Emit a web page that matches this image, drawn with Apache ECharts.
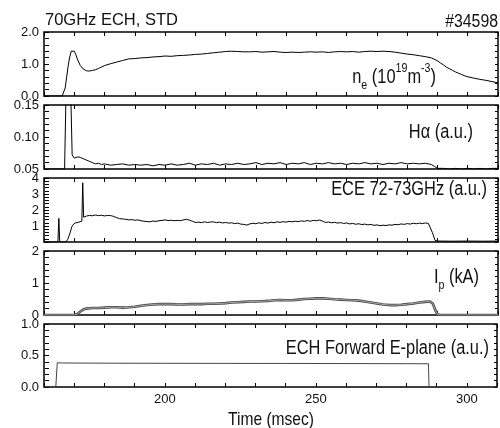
<!DOCTYPE html>
<html>
<head>
<meta charset="utf-8">
<script src="https://cdn.jsdelivr.net/npm/echarts@6/dist/echarts.min.js"></script>
<style>html,body{margin:0;padding:0;background:#fff}#c{width:500px;height:428px}</style>
</head>
<body>
<div id="c"></div>
<script>
// ---- data (time in msec, value) ----
const timeTicks = [200, 250, 300];

const neData = [[160,0],[164,0],[166,0],[166.5,0.03],[167,0.25],[167.5,0.6],[168,0.95],[168.5,1.22],[169,1.40],[169.5,1.44],[170,1.40],[170.5,1.30],[171,1.16],[172,0.95],[173,0.84],[174,0.79],[175,0.78],[176,0.80],[177,0.82],[178,0.86],[180,0.95],[182,1.01],[184,1.06],[186,1.11],[188,1.16],[190,1.17],[192,1.19],[194,1.20],[196,1.22],[198,1.23],[200,1.25],[202,1.24],[204,1.26],[206,1.27],[208,1.28],[210,1.30],[212,1.31],[214,1.33],[216,1.35],[218,1.37],[220,1.39],[222,1.40],[224,1.39],[226,1.38],[228,1.38],[230,1.39],[232,1.37],[234,1.38],[236,1.39],[238,1.37],[240,1.36],[242,1.37],[244,1.36],[246,1.37],[248,1.38],[250,1.37],[252,1.38],[254,1.36],[256,1.38],[258,1.39],[260,1.38],[262,1.39],[264,1.37],[266,1.39],[268,1.40],[270,1.39],[272,1.40],[274,1.39],[276,1.37],[278,1.34],[280,1.31],[282,1.29],[284,1.26],[286,1.23],[288,1.19],[290,1.10],[291,1.03],[292,0.97],[293,0.90],[294,0.85],[295,0.80],[296,0.75],[297,0.71],[298,0.67],[299,0.63],[300,0.60],[302,0.56],[304,0.52],[306,0.49],[308,0.45],[310,0.41]];

const haData = [[160,0.05],[166.8,0.05],[167.4,0.2],[168.7,0.2],[169.3,0.072],[170,0.067],[170.6,0.066],[171.2,0.069],[172,0.068],[173,0.066],[174,0.064],[175,0.062],[176,0.060],[177,0.058],[178,0.059],[179,0.057],[180,0.058],[182,0.056],[184,0.057],[186,0.058],[188,0.056],[190,0.057],[192,0.056],[194,0.057],[196,0.055],[198,0.057],[200,0.056],[202,0.058],[204,0.056],[206,0.057],[208,0.059],[210,0.056],[212,0.058],[214,0.057],[216,0.059],[218,0.056],[220,0.058],[222,0.057],[224,0.059],[226,0.057],[228,0.058],[230,0.060],[232,0.057],[234,0.059],[236,0.058],[238,0.060],[240,0.057],[242,0.059],[244,0.058],[246,0.060],[248,0.057],[250,0.059],[252,0.058],[254,0.060],[256,0.058],[258,0.059],[260,0.057],[262,0.059],[264,0.058],[266,0.060],[268,0.058],[270,0.059],[272,0.057],[274,0.059],[276,0.058],[278,0.060],[280,0.058],[282,0.059],[284,0.058],[286,0.059],[288,0.057],[289,0.054],[290,0.051],[292,0.051],[294,0.050],[296,0.051],[298,0.050],[300,0.051],[302,0.050],[304,0.051],[306,0.050],[308,0.051],[310,0.051]];

const eceData = [[160,0],[164.6,0],[164.9,1.48],[165.2,0],[167.2,0],[167.8,0.15],[168.5,0.5],[169.2,0.95],[169.8,1.12],[170.5,1.2],[171.5,1.24],[172.5,1.3],[172.8,3.7],[173.1,1.55],[174,1.62],[175,1.66],[176,1.64],[177,1.69],[178,1.65],[179,1.67],[180,1.63],[181,1.66],[182,1.65],[183,1.6],[184,1.52],[185,1.46],[186,1.44],[187,1.42],[188,1.38],[189,1.4],[190,1.36],[191,1.38],[192,1.33],[193,1.3],[194,1.28],[195,1.26],[196,1.31],[197,1.29],[198,1.33],[199,1.35],[200,1.38],[201,1.34],[202,1.36],[203,1.33],[204,1.35],[205,1.33],[206,1.38],[207,1.42],[208,1.37],[209,1.30],[210,1.22],[211,1.24],[212,1.21],[213,1.26],[214,1.22],[215,1.25],[216,1.26],[217,1.21],[218,1.24],[219,1.19],[220,1.22],[221,1.18],[222,1.2],[223,1.15],[224,1.18],[225,1.12],[226,1.1],[227,1.06],[228,1.13],[229,1.17],[230,1.14],[231,1.2],[232,1.16],[233,1.22],[234,1.18],[235,1.24],[236,1.2],[237,1.26],[238,1.23],[239,1.27],[240,1.24],[241,1.29],[242,1.26],[243,1.3],[244,1.27],[245,1.32],[246,1.29],[247,1.34],[248,1.3],[249,1.35],[250,1.33],[251,1.37],[252,1.31],[253,1.22],[254,1.25],[255,1.2],[256,1.23],[257,1.18],[258,1.21],[259,1.16],[260,1.19],[261,1.13],[262,1.16],[263,1.11],[264,1.14],[265,1.09],[266,1.12],[267,1.07],[268,1.1],[269,1.04],[270,1.07],[271,1.02],[272,1.05],[273,1.03],[274,1.07],[275,1.05],[276,1.1],[277,1.08],[278,1.13],[279,1.1],[280,1.15],[281,1.12],[282,1.17],[283,1.14],[284,1.18],[285,1.15],[286,1.19],[287,1.16],[287.6,1.12],[288.3,0.6],[289.2,0.1],[290,0.06],[295,0.05],[300,0.06],[305,0.05],[310,0.06]];

const ipData = [[160,0],[170,0],[171,0.03],[172,0.11],[173,0.17],[174,0.2],[176,0.22],[178,0.22],[180,0.23],[182,0.24],[184,0.24],[186,0.23],[188,0.24],[190,0.26],[192,0.29],[194,0.31],[196,0.33],[198,0.34],[200,0.34],[202,0.34],[204,0.33],[206,0.33],[208,0.34],[210,0.34],[212,0.34],[214,0.35],[216,0.35],[218,0.36],[220,0.37],[222,0.39],[224,0.40],[226,0.41],[228,0.42],[230,0.42],[232,0.43],[234,0.44],[236,0.46],[238,0.47],[240,0.46],[242,0.46],[244,0.48],[246,0.50],[248,0.51],[250,0.52],[252,0.52],[254,0.51],[256,0.49],[258,0.48],[260,0.47],[262,0.46],[264,0.45],[266,0.42],[268,0.39],[270,0.36],[272,0.33],[274,0.31],[276,0.31],[278,0.32],[280,0.34],[282,0.36],[284,0.39],[286,0.41],[287.5,0.42],[288.5,0.35],[289.3,0.15],[290,0.02],[291,0],[310,0]];

const echData = [[160,0],[163.9,0],[164.4,0.385],[166,0.381],[180,0.378],[200,0.376],[220,0.375],[240,0.374],[260,0.372],[280,0.370],[287.3,0.369],[287.5,0],[310,0]];

// y-axis settings per panel
const yMin = [0, 0.05, 0, 0, 0];
const yMax = [2, 0.15, 4, 2, 1];
const yInterval = [1, 0.05, 1, 1, 0.5];
const yDecimals = [1, 2, 0, 0, 1];
const yHideZero = [false, false, true, false, false];

// ---- layout ----
const FONT = 'Liberation Sans, Arial, Helvetica, sans-serif';
const gridTops = [32, 105, 178, 251, 324];
const grids = gridTops.map((t, i) => ({
  left: 44, right: 2, top: t, height: i === 4 ? 63 : 64,
  show: true, borderColor: '#000', borderWidth: 1.5
}));

const xAxes = [];
const yAxes = [];
for (let i = 0; i < 5; i++) {
  // bottom axis: ticks pointing into the plot (negative offset), labels on the last panel
  xAxes.push({
    gridIndex: i, type: 'value', min: 160, max: 310, interval: 10, position: 'bottom', offset: -4,
    axisLine: { show: false, onZero: false },
    axisTick: { show: true, length: 4, lineStyle: { color: '#000' } },
    axisLabel: i === 4 ? { show: true, fontSize: 13, fontFamily: FONT, color: '#111', margin: 10,
      formatter: v => (timeTicks.indexOf(Math.round(v)) >= 0 ? String(Math.round(v)) : '') } : { show: false },
    splitLine: { show: false }
  });
  // top axis
  xAxes.push({
    gridIndex: i, type: 'value', min: 160, max: 310, interval: 10, position: 'top', offset: -4,
    axisLine: { show: false, onZero: false },
    axisTick: { show: true, length: 4, lineStyle: { color: '#000' } },
    axisLabel: { show: false },
    splitLine: { show: false }
  });
  // left axis with labels
  yAxes.push({
    gridIndex: i, type: 'value', min: yMin[i], max: yMax[i], interval: yInterval[i], position: 'left', offset: -5,
    axisLine: { show: false, onZero: false },
    axisTick: { show: true, length: 5, lineStyle: { color: '#000' } },
    minorTick: { show: true, splitNumber: 5, length: 4, lineStyle: { color: '#000' } },
    axisLabel: {
      show: true, fontSize: 13, fontFamily: FONT, color: '#111', margin: 10,
      formatter: v => (yHideZero[i] && Math.abs(v) < 1e-9) ? '' : v.toFixed(yDecimals[i])
    },
    splitLine: { show: false }, minorSplitLine: { show: false }
  });
  // right axis
  yAxes.push({
    gridIndex: i, type: 'value', min: yMin[i], max: yMax[i], interval: yInterval[i], position: 'right', offset: -3,
    axisLine: { show: false, onZero: false },
    axisTick: { show: true, length: 3, lineStyle: { color: '#000' } },
    minorTick: { show: true, splitNumber: 5, length: 3, lineStyle: { color: '#000' } },
    axisLabel: { show: false },
    splitLine: { show: false }, minorSplitLine: { show: false }
  });
}

function line(i, data, color, width, z) {
  return {
    type: 'line', xAxisIndex: i * 2, yAxisIndex: i * 2, data: data,
    showSymbol: false, symbol: 'none', smooth: false, clip: true, z: z || 2,
    lineStyle: { color: color, width: width }, animation: false, silent: true
  };
}

const series = [
  line(0, neData, '#000', 1),
  line(1, haData, '#000', 1),
  line(2, eceData, '#000', 1),
  line(3, ipData, '#444', 2.6),
  line(3, ipData, '#aaa', 1, 3),
  line(4, echData, '#444', 1)
];

const SX = 0.82;
function lbl(x, y, text, rich) {
  return {
    type: 'text', x: x, y: y, scaleX: SX, silent: true,
    style: Object.assign({
      text: text, fontSize: 20, fontFamily: FONT, fill: '#111',
      align: 'right', verticalAlign: 'middle'
    }, rich ? { rich: rich } : {})
  };
}
const richSub = {
  m: { fontSize: 20, fontFamily: FONT, lineHeight: 30, fill: '#111' },
  sub: { fontSize: 13, fontFamily: FONT, lineHeight: 7, verticalAlign: 'bottom', fill: '#111' },
  sup: { fontSize: 13, fontFamily: FONT, lineHeight: 20, verticalAlign: 'top', fill: '#111' }
};

const graphic = [
  { type: 'text', x: 45, y: 20, silent: true,
    style: { text: '70GHz ECH, STD', fontSize: 16.5, fontFamily: FONT, fill: '#111', align: 'left', verticalAlign: 'middle' } },
  { type: 'text', x: 498, y: 22, scaleX: 0.88, silent: true,
    style: { text: '#34598', fontSize: 18, fontFamily: FONT, fill: '#111', align: 'right', verticalAlign: 'middle' } },
  lbl(436, 77, '{m|n}{sub|e}{m| (10}{sup|19}{m|m}{sup|-3}{m|)}', richSub),
  lbl(473, 132, 'H\u03b1 (a.u.)'),
  lbl(487, 189, 'ECE 72-73GHz (a.u.)'),
  lbl(479, 277, '{m|I}{sub|p}{m| (kA)}', richSub),
  lbl(489, 348, 'ECH Forward E-plane (a.u.)'),
  { type: 'text', x: 271, y: 420, scaleX: SX, silent: true,
    style: { text: 'Time (msec)', fontSize: 19, fontFamily: FONT, fill: '#111', align: 'center', verticalAlign: 'middle' } }
];

const chart = echarts.init(document.getElementById('c'));
chart.setOption({
  animation: false,
  backgroundColor: '#fff',
  grid: grids,
  xAxis: xAxes,
  yAxis: yAxes,
  series: series,
  graphic: graphic
});
</script>
</body>
</html>
